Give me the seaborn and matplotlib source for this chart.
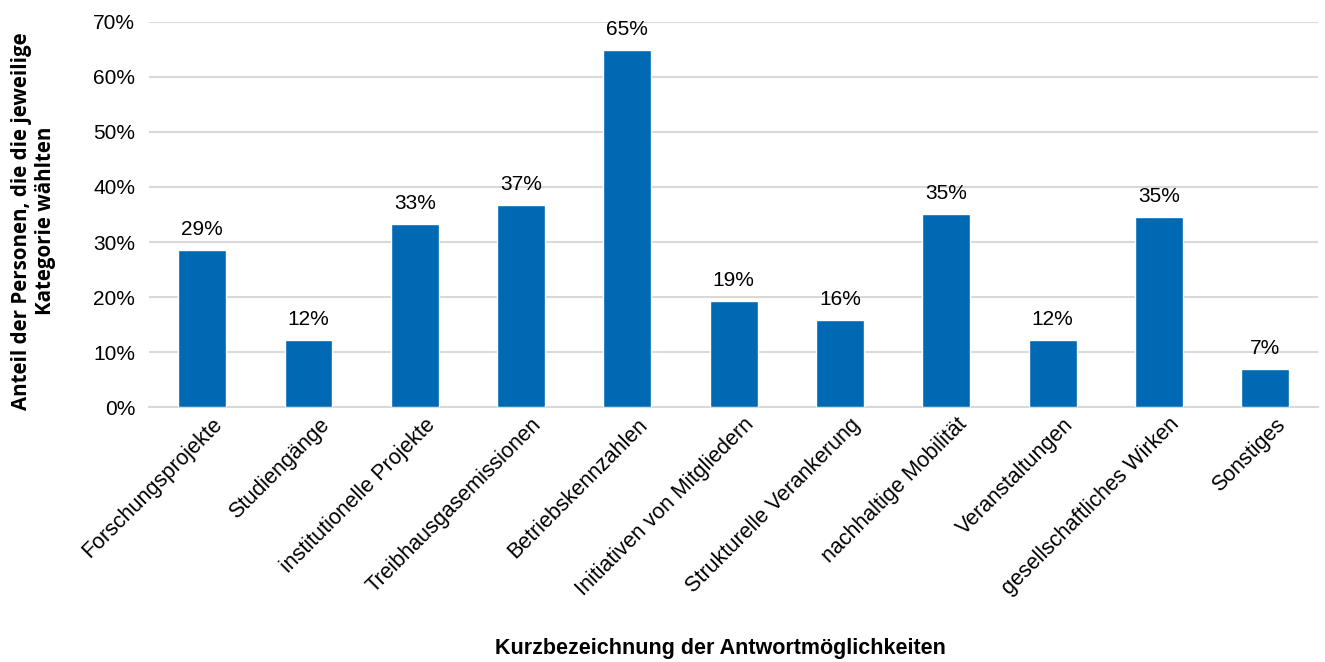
import matplotlib.pyplot as plt
import matplotlib.transforms as mtransforms
import seaborn as sbn
import pandas as pd
from matplotlib.ticker import PercentFormatter

categories = ['Forschungsprojekte', 'Studiengänge', 'institutionelle Projekte',
              'Treibhausgasemissionen', 'Betriebskennzahlen', 'Initiativen von Mitgliedern',
              'Strukturelle Verankerung', 'nachhaltige Mobilität', 'Veranstaltungen',
              'gesellschaftliches Wirken', 'Sonstiges']
shares = [28.6, 12.2, 33.3, 36.7, 64.9, 19.3, 15.8, 35.1, 12.2, 34.5, 6.9]
labels = ['29%', '12%', '33%', '37%', '65%', '19%', '16%', '35%', '12%', '35%', '7%']

df = pd.DataFrame({'Kategorie': categories, 'Anteil': shares})

sbn.set_style('white')
plt.rcParams['font.family'] = ['Liberation Sans', 'DejaVu Sans']
plt.rcParams['text.color'] = 'black'
plt.rcParams['axes.labelcolor'] = 'black'
plt.rcParams['xtick.color'] = 'black'
plt.rcParams['ytick.color'] = 'black'

fig = plt.figure(figsize=(13.25, 6.62), dpi=100)
ax = fig.add_axes([0.1125, 0.385, 0.8825, 0.582])

sbn.barplot(data=df, x='Kategorie', y='Anteil', color='#0069B4', width=0.45,
            saturation=1, ax=ax, zorder=3)

for bar, lab in zip(ax.patches, labels):
    ax.annotate(lab, (bar.get_x() + bar.get_width() / 2, bar.get_height()),
                xytext=(0, 8), textcoords='offset points',
                ha='center', va='bottom', fontsize=15)

ax.set_ylim(0, 70)
ax.set_xlim(-0.5, len(categories) - 0.5)
ax.set_yticks(range(0, 71, 10))
ax.yaxis.set_major_formatter(PercentFormatter(decimals=0))
ax.grid(axis='y', color='#D9D9D9', linewidth=1.5, zorder=0)
for side in ['top', 'right', 'left']:
    ax.spines[side].set_visible(False)
ax.spines['bottom'].set_color('#D9D9D9')
ax.spines['bottom'].set_linewidth(1.5)
ax.tick_params(axis='y', length=0, labelsize=15, pad=10)
ax.tick_params(axis='x', length=0, labelsize=15.5, pad=5)
shift = mtransforms.ScaledTranslation(10 / 100, 0, fig.dpi_scale_trans)
for t in ax.get_xticklabels():
    t.set_rotation(45)
    t.set_ha('right')
    t.set_rotation_mode('anchor')
    t.set_transform(t.get_transform() + shift)

ax.set_xlabel('Kurzbezeichnung der Antwortmöglichkeiten', fontsize=15.5, fontweight='bold')
ax.xaxis.set_label_coords(0.489, -0.60)
ax.set_ylabel('Anteil der Personen, die die jeweilige\nKategorie wählten', fontsize=14.8,
              fontweight='bold', family=['Open Sans', 'DejaVu Sans'], linespacing=1.15)
ax.yaxis.set_label_coords(-0.080, 0.483)

fig.savefig('out.png', dpi=100)
